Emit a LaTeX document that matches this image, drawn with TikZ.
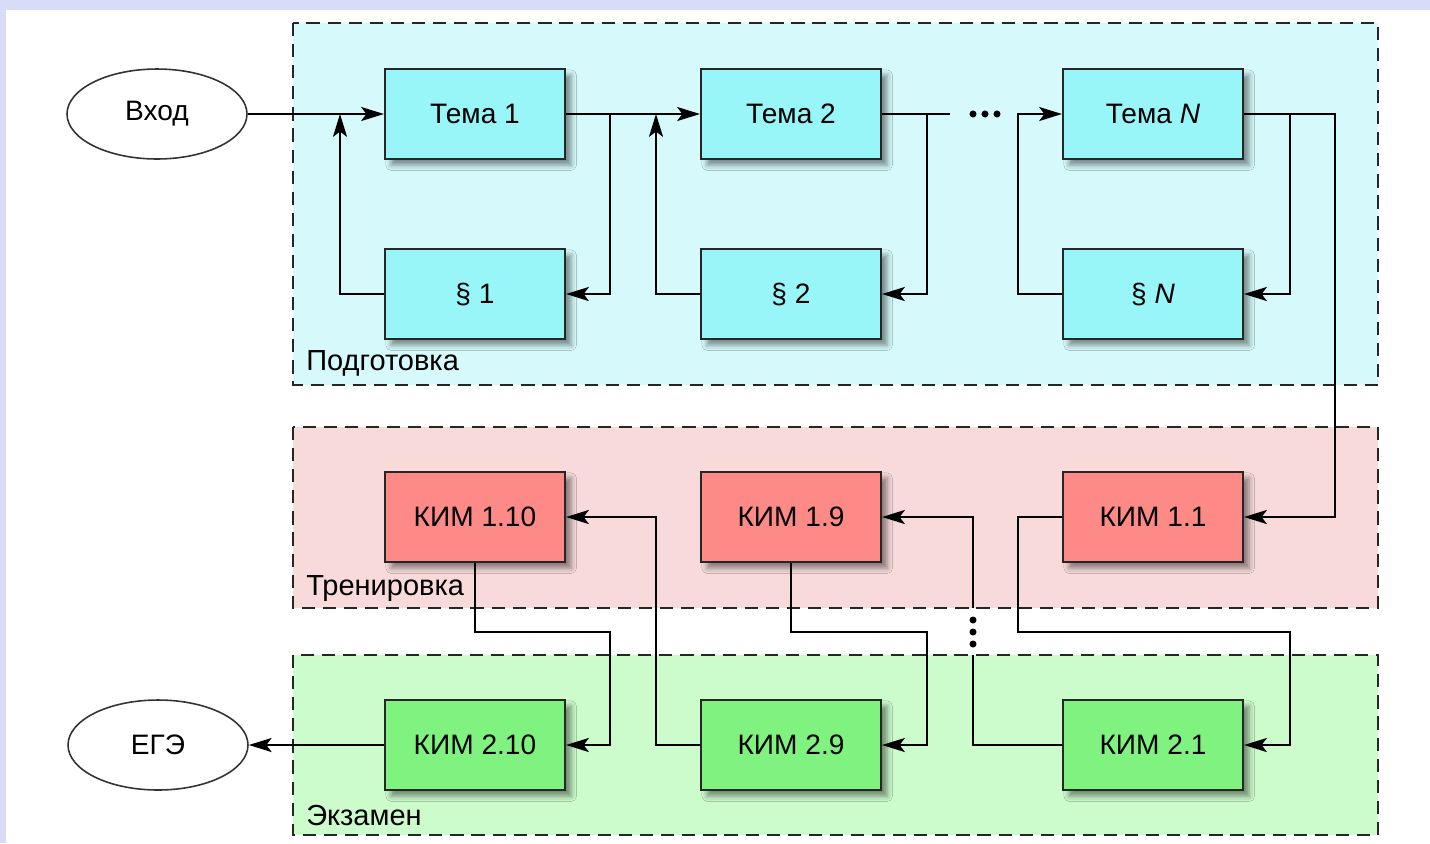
\documentclass[tikz,border=0pt]{standalone}
\usepackage{fontspec}
\setmainfont{Liberation Sans}
\usetikzlibrary{shapes.geometric,arrows.meta,shadows.blur}

\definecolor{lav}{HTML}{D8DCF6}
\definecolor{zoneB}{HTML}{D6FAFB}
\definecolor{zoneR}{HTML}{F8DADA}
\definecolor{zoneG}{HTML}{CCFBCC}
\definecolor{boxB}{HTML}{98F5F8}
\definecolor{boxR}{HTML}{FD8A86}
\definecolor{boxG}{HTML}{80F27F}

\begin{document}
\begin{tikzpicture}[x=0.02cm,y=-0.02cm,font=\fontsize{16}{19}\selectfont,blk/.style={shape=rectangle,draw=black!85,line width=1.2pt,minimum width=3.6cm,minimum height=1.8cm,inner sep=0pt,blur shadow={shadow xshift=3.5pt,shadow yshift=-3.5pt,shadow blur radius=3pt,shadow opacity=45}},blkB/.style={blk,fill=boxB},blkR/.style={blk,fill=boxR},blkG/.style={blk,fill=boxG},term/.style={shape=ellipse,draw=black!80,line width=0.9pt,fill=white,minimum width=3.6cm,minimum height=1.8cm,inner sep=0pt},zone/.style={draw=black!85,line width=1.2pt,dash pattern=on 7.5pt off 4.5pt},zlbl/.style={anchor=west,inner sep=0pt,font=\fontsize{16.5}{19}\selectfont},lnk/.style={line width=1.1pt},arr/.style={lnk,-{Stealth[length=13pt,width=8pt,inset=3pt]}}]
\def\ca{475}
\def\cb{791}
\def\cc{1153}
\def\ra{114}
\def\rb{294}
\def\rc{517}
\def\rd{745}

\useasboundingbox (0,0) rectangle (1430,843);
\fill[lav] (0,0) rectangle (1430,843);
\fill[white] (6,10) rectangle (1430,843);

\draw[zone,fill=zoneB] (293,23) rectangle (1378,385);
\draw[zone,fill=zoneR] (293,427) rectangle (1378,608);
\draw[zone,fill=zoneG] (293,655) rectangle (1378,835);
\node[zlbl] (lp) at (306,363) {Подготовка};
\node[zlbl] (lt) at (306,589) {Тренировка};
\node[zlbl] (le) at (306,816) {Экзамен};

\node[term] (vhod) at (157,\ra) {Вход};
\node[term] (ege) at (158,\rd) {ЕГЭ};

\node[blkB] (T1) at (\ca,\ra) {Тема 1};
\node[blkB] (T2) at (\cb,\ra) {Тема 2};
\node[blkB] (TN) at (\cc,\ra) {Тема \textit{N}};
\node[blkB] (P1) at (\ca,\rb) {§ 1};
\node[blkB] (P2) at (\cb,\rb) {§ 2};
\node[blkB] (PN) at (\cc,\rb) {§ \textit{N}};

\node[blkR] (K110) at (\ca,\rc) {КИМ 1.10};
\node[blkR] (K19) at (\cb,\rc) {КИМ 1.9};
\node[blkR] (K11) at (\cc,\rc) {КИМ 1.1};
\node[blkG] (K210) at (\ca,\rd) {КИМ 2.10};
\node[blkG] (K29) at (\cb,\rd) {КИМ 2.9};
\node[blkG] (K21) at (\cc,\rd) {КИМ 2.1};

\coordinate (j1) at (340,\ra);
\coordinate (j2) at (656,\ra);
\coordinate (j3) at (1018,\ra);
\coordinate (e0) at (950,\ra);
\coordinate (k1) at (610,\rb);
\coordinate (k2) at (927,\rb);
\coordinate (k3) at (1290,\rb);
\coordinate (k4) at (1335,\rc);
\coordinate (f1) at (656,\rc);
\coordinate (m1) at (1018,632);
\coordinate (m2) at (1290,\rd);
\coordinate (m3) at (927,632);
\coordinate (m4) at (610,632);
\coordinate (g1) at (973,655);
\coordinate (g2) at (973,608);

% подготовка
\draw[arr] (vhod.east) -- (T1.west);
\draw[arr] (P1.west) -| (j1);
\draw[arr] (T1.east) -- (T2.west);
\draw[arr] (T1.east) -| (k1) -- (P1.east);
\draw[arr] (P2.west) -| (j2);
\draw[lnk] (T2.east) -- (e0);
\draw[arr] (T2.east) -| (k2) -- (P2.east);
\foreach \x in {973,985,997} \fill (\x,\ra) circle (2pt);
\draw[arr] (PN.west) -| (j3) -- (TN.west);
\draw[arr] (TN.east) -| (k3) -- (PN.east);
\draw[arr] (TN.east) -| (k4) -- (K11.east);

% тренировка и экзамен
\draw[arr] (K11.west) -| (m1) -| (m2) -- (K21.east);
\draw[lnk] (K21.west) -| (g1);
\foreach \y in {620,632,644} \fill (973,\y) circle (2pt);
\draw[arr] (g2) |- (K19.east);
\draw[arr] (K19.south) |- (m3) |- (K29.east);
\draw[arr] (K29.west) -| (f1) -- (K110.east);
\draw[arr] (K110.south) |- (m4) |- (K210.east);
\draw[arr] (K210.west) -- (ege.east);
\end{tikzpicture}
\end{document}
